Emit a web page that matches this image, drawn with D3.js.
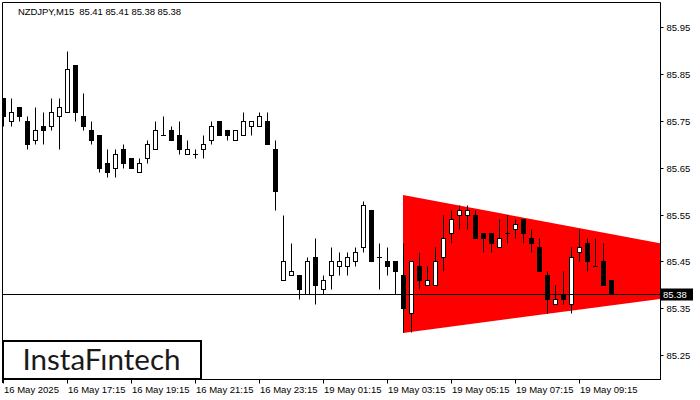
<!DOCTYPE html>
<html><head><meta charset="utf-8">
<script src="https://cdn.jsdelivr.net/npm/d3@7"></script>
<style>html,body{margin:0;padding:0;background:#fff;}svg{display:block;}</style>
</head><body>
<svg id="c" width="700" height="400"></svg>
<script>
const title = "NZDJPY,M15  85.41 85.41 85.38 85.38";
const openP  = [85.80,85.75,85.78,85.75,85.71,85.74,85.74,85.76,85.77,85.87,85.76,85.73,85.72,85.66,85.65,85.69,85.67,85.64,85.67,85.69,
                85.72,85.73,85.72,85.68,85.68,85.69,85.71,85.75,85.73,85.71,85.72,85.74,85.74,85.75,85.69,85.41,85.42,85.42,85.38,85.46,
                85.39,85.42,85.44,85.44,85.45,85.48,85.56,85.46,85.45,85.45,85.42,85.34,85.44,85.40,85.40,85.46,85.51,85.55,85.55,85.55,
                85.51,85.51,85.48,85.51,85.52,85.54,85.50,85.48,85.42,85.36,85.38,85.36,85.47,85.49,85.44,85.45,85.41];
const highP  = [85.80,85.80,85.78,85.76,85.78,85.77,85.80,85.80,85.90,85.87,85.81,85.75,85.72,85.69,85.69,85.70,85.67,85.67,85.71,85.75,
                85.76,85.74,85.75,85.71,85.69,85.72,85.75,85.75,85.73,85.73,85.77,85.75,85.77,85.77,85.71,85.55,85.49,85.42,85.46,85.50,
                85.42,85.48,85.47,85.47,85.48,85.58,85.56,85.49,85.48,85.45,85.49,85.45,85.47,85.44,85.48,85.55,85.56,85.57,85.57,85.56,
                85.51,85.51,85.54,85.55,85.54,85.54,85.52,85.50,85.43,85.40,85.43,85.48,85.52,85.50,85.50,85.49,85.41];
const lowP   = [85.74,85.74,85.75,85.69,85.70,85.70,85.73,85.69,85.77,85.75,85.73,85.70,85.64,85.63,85.63,85.65,85.65,85.64,85.66,85.69,
                85.72,85.71,85.68,85.68,85.67,85.67,85.70,85.72,85.71,85.71,85.72,85.72,85.74,85.70,85.56,85.41,85.42,85.37,85.38,85.36,
                85.38,85.39,85.42,85.42,85.44,85.47,85.45,85.39,85.42,85.38,85.30,85.30,85.39,85.40,85.40,85.43,85.49,85.52,85.52,85.50,
                85.47,85.47,85.48,85.49,85.50,85.49,85.47,85.43,85.34,85.36,85.36,85.34,85.45,85.43,85.44,85.40,85.38];
const closeP = [85.76,85.77,85.76,85.70,85.73,85.73,85.77,85.78,85.86,85.77,85.74,85.71,85.65,85.64,85.68,85.66,85.65,85.66,85.70,85.73,
                85.72,85.71,85.69,85.69,85.68,85.70,85.74,85.72,85.72,85.73,85.75,85.75,85.76,85.70,85.60,85.45,85.43,85.39,85.45,85.40,
                85.41,85.45,85.45,85.46,85.47,85.57,85.45,85.46,85.44,85.43,85.35,85.45,85.41,85.41,85.45,85.50,85.54,85.56,85.56,85.50,
                85.50,85.49,85.50,85.51,85.53,85.51,85.49,85.43,85.37,85.37,85.37,85.46,85.48,85.45,85.44,85.40,85.38];
const xTickBars   = [0, 8, 16, 24, 32, 40, 48, 56, 64, 72];
const xTickLabels = ["16 May 2025","16 May 17:15","16 May 19:15","16 May 21:15","16 May 23:15",
                     "19 May 01:15","19 May 03:15","19 May 05:15","19 May 07:15","19 May 09:15"];
const yTicks = [85.25, 85.35, 85.45, 85.55, 85.65, 85.75, 85.85, 85.95];
const triangleBars   = [50, 103.8, 50];
const trianglePrices = [85.592, 85.419, 85.297];
const currentPrice = 85.38;
const logoText = "InstaFıntech";

const svg = d3.select("#c");
const L = 2, R = 660, T = 2, B = 379;
const x = d3.scaleLinear().domain([0, 82.125]).range([3, 660]);
const y = d3.scaleLinear().domain([85.25, 85.95]).range([355, 27.3]);
const font = "'Liberation Sans', Arial, sans-serif";
const cy = v => Math.round(y(v)) + 0.5;

svg.append("defs").append("clipPath").attr("id","plot")
  .append("rect").attr("x",L).attr("y",T).attr("width",R-L).attr("height",B-T);

const g = svg.append("g").attr("clip-path","url(#plot)");

// triangle
g.append("polygon")
  .attr("points", triangleBars.map((b,i)=>[x(b), y(trianglePrices[i])].join(",")).join(" "))
  .attr("fill","#ff0000").attr("stroke","none");

// candles
const idx = d3.range(openP.length);
const cg = g.append("g");
idx.forEach(i=>{
  const cx = Math.round(x(i));
  const o = openP[i], c = closeP[i], h = highP[i], l = lowP[i];
  cg.append("line").attr("x1",cx+0.5).attr("x2",cx+0.5)
    .attr("y1",cy(h)).attr("y2",cy(l)).attr("stroke","#000").attr("stroke-width",1);
  if (Math.abs(o-c) < 1e-9) {
    cg.append("line").attr("x1",cx-2).attr("x2",cx+3).attr("y1",cy(o)).attr("y2",cy(o))
      .attr("stroke","#000").attr("stroke-width",1);
  } else {
    const top = cy(Math.max(o,c)), bot = cy(Math.min(o,c));
    cg.append("rect").attr("x",cx-1.5).attr("y",top).attr("width",4).attr("height",bot-top)
      .attr("fill", c>o ? "#fff" : "#000").attr("stroke","#000").attr("stroke-width",1);
  }
});

// current price line
g.append("line").attr("x1",L).attr("x2",R).attr("y1",cy(currentPrice)).attr("y2",cy(currentPrice))
  .attr("stroke","#000").attr("stroke-width",1);

// logo
svg.append("rect").attr("x",3).attr("y",341).attr("width",198).attr("height",38)
  .attr("fill","#fff").attr("stroke","#000").attr("stroke-width",2);
svg.append("text").attr("x",22.5).attr("y",369.5).text(logoText)
  .attr("font-family","Lato, 'Open Sans', sans-serif").attr("font-size",28)
  .attr("fill","#1a1a1a").attr("textLength",158).attr("lengthAdjust","spacingAndGlyphs");

// frame
svg.append("path").attr("d",`M${L+0.5},${B+4}V${T+0.5}H${R+0.5}V${B+0.5}`).attr("fill","none").attr("stroke","#000");

// y axis
const yAxis = d3.axisRight(y).tickValues(yTicks).tickFormat(d3.format(".2f")).tickSize(3).tickPadding(3);
const ya = svg.append("g").attr("transform",`translate(${R+0.5},0)`).call(yAxis);
ya.select(".domain").remove();
ya.selectAll("text").attr("font-family",font).attr("font-size",9.5).attr("fill","#000");
ya.selectAll(".tick").attr("transform", d=>`translate(0,${cy(d)})`);

// x axis
const xAxis = d3.axisBottom(x).tickValues(xTickBars).tickFormat((d,i)=>xTickLabels[i]).tickSize(4).tickPadding(3);
const xa = svg.append("g").attr("transform",`translate(0,${B+0.5})`).call(xAxis);
xa.select(".domain").attr("d",`M${L},0H${R+1}`);
xa.selectAll(".tick").attr("transform", d=>`translate(${Math.round(x(d))+0.5},0)`);
xa.selectAll("text").attr("font-family",font).attr("font-size",9.5).attr("fill","#000")
  .attr("text-anchor","start").attr("x",0.5);

// price label
const py = cy(currentPrice);
svg.append("rect").attr("x",661).attr("y",py-6).attr("width",32).attr("height",12).attr("fill","#000");
svg.append("text").attr("x",663).attr("y",py+3.5).text(currentPrice.toFixed(2))
  .attr("font-family",font).attr("font-size",9.5).attr("fill","#fff");

// title
svg.append("text").attr("x",18).attr("y",14.5).text(title)
  .attr("font-family",font).attr("font-size",9.5).attr("fill","#000")
  .attr("textLength",163).attr("lengthAdjust","spacing")
  .style("white-space","pre");
</script>
</body></html>
